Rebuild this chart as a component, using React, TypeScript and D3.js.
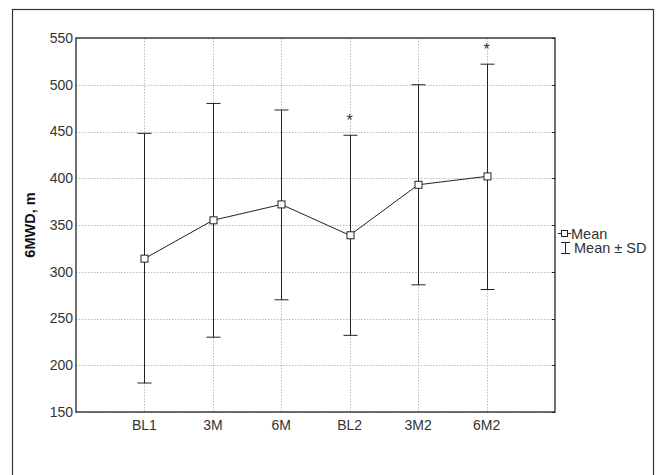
import React from "react";
import * as d3 from "d3";

const categories = ["BL1", "3M", "6M", "BL2", "3M2", "6M2"];
const means = [314, 355, 372, 339, 393, 402];
const upperSD = [448, 480, 473, 446, 500, 522];
const lowerSD = [181, 230, 270, 232, 286, 281];
const significant = [false, false, false, true, false, true];
const yTicks = [150, 200, 250, 300, 350, 400, 450, 500, 550];

const W = 660;
const H = 475;
const left = 76;
const right = 555;
const top = 38;
const bottom = 412;
const font = "'Liberation Sans', Arial, sans-serif";

export default function App() {
  const x = d3.scaleLinear().domain([0, categories.length + 1]).range([left, right]);
  const y = d3.scaleLinear().domain([150, 550]).range([bottom, top]);
  const line = d3
    .line<number>()
    .x((_, i) => x(i + 1))
    .y((d) => y(d));

  return (
    <svg
      width={W}
      height={H}
      style={{ position: "absolute", left: 0, top: 0, background: "#fff" }}
      fontFamily={font}
    >
      <rect x={0} y={0} width={W} height={H} fill="#fff" />
      <rect x={12.5} y={9.5} width={641} height={480} fill="none" stroke="#333" strokeWidth={1.2} />
      {/* horizontal grid */}
      {yTicks.map((t) => (
        <line
          key={"h" + t}
          x1={left}
          x2={right}
          y1={Math.round(y(t)) + 0.5}
          y2={Math.round(y(t)) + 0.5}
          stroke="#aaa"
          strokeWidth={0.8}
          strokeDasharray="1.5,1.5"
        />
      ))}
      {/* vertical grid */}
      {categories.map((c, i) => (
        <line
          key={"v" + c}
          x1={Math.round(x(i + 1)) + 0.5}
          x2={Math.round(x(i + 1)) + 0.5}
          y1={top}
          y2={bottom}
          stroke="#aaa"
          strokeWidth={0.8}
          strokeDasharray="1.5,1.5"
        />
      ))}
      {/* right-side ticks */}
      {yTicks.map((t) => (
        <line
          key={"rt" + t}
          x1={right - 3}
          x2={right}
          y1={Math.round(y(t)) + 0.5}
          y2={Math.round(y(t)) + 0.5}
          stroke="#222"
          strokeWidth={1}
        />
      ))}
      {/* frame */}
      <rect x={left} y={top} width={right - left} height={bottom - top} fill="none" stroke="#222" strokeWidth={1.3} />
      {/* y tick labels */}
      {yTicks.map((t) => (
        <text
          key={"yl" + t}
          x={left - 3}
          y={y(t)}
          dy="0.35em"
          textAnchor="end"
          fontSize={14}
          fill="#333"
        >
          {t}
        </text>
      ))}
      {/* x tick labels */}
      {categories.map((c, i) => (
        <text key={"xl" + c} x={x(i + 1)} y={430} textAnchor="middle" fontSize={14} fill="#333">
          {c}
        </text>
      ))}
      {/* y axis title */}
      <text
        transform={`translate(35,${(top + bottom) / 2}) rotate(-90)`}
        textAnchor="middle"
        fontSize={14.5}
        fontWeight="bold"
        fill="#111"
      >
        6MWD, m
      </text>
      {/* error bars */}
      {categories.map((c, i) => {
        const cx = Math.round(x(i + 1)) + 0.5;
        return (
          <g key={"e" + c} stroke="#222" strokeWidth={1}>
            <line x1={cx} x2={cx} y1={y(upperSD[i])} y2={y(lowerSD[i])} />
            <line x1={cx - 7} x2={cx + 7} y1={y(upperSD[i])} y2={y(upperSD[i])} />
            <line x1={cx - 7} x2={cx + 7} y1={y(lowerSD[i])} y2={y(lowerSD[i])} />
          </g>
        );
      })}
      {/* mean line */}
      <path d={line(means) || ""} fill="none" stroke="#222" strokeWidth={1} />
      {means.map((m, i) => (
        <rect
          key={"m" + i}
          x={Math.round(x(i + 1)) - 3}
          y={y(m) - 3.5}
          width={7}
          height={7}
          fill="#fff"
          stroke="#222"
          strokeWidth={1}
        />
      ))}
      {/* asterisks */}
      {categories.map((c, i) =>
        significant[i] ? (
          <text
            key={"s" + c}
            x={x(i + 1)}
            y={y(upperSD[i]) - 9}
            textAnchor="middle"
            fontSize={16}
            fill="#333"
          >
            *
          </text>
        ) : null
      )}
      {/* legend */}
      <g stroke="#222" strokeWidth={1}>
        <line x1={558} x2={571} y1={233.5} y2={233.5} />
        <rect x={561.5} y={230.5} width={6} height={6} fill="#fff" />
        <line x1={565.5} x2={565.5} y1={242} y2={254} />
        <line x1={561} x2={570} y1={242.5} y2={242.5} />
        <line x1={561} x2={570} y1={253.5} y2={253.5} />
      </g>
      <text x={571} y={238.5} fontSize={14.5} fill="#333">
        Mean
      </text>
      <text x={574} y={253} fontSize={14.5} fill="#333">
        Mean ± SD
      </text>
    </svg>
  );
}
